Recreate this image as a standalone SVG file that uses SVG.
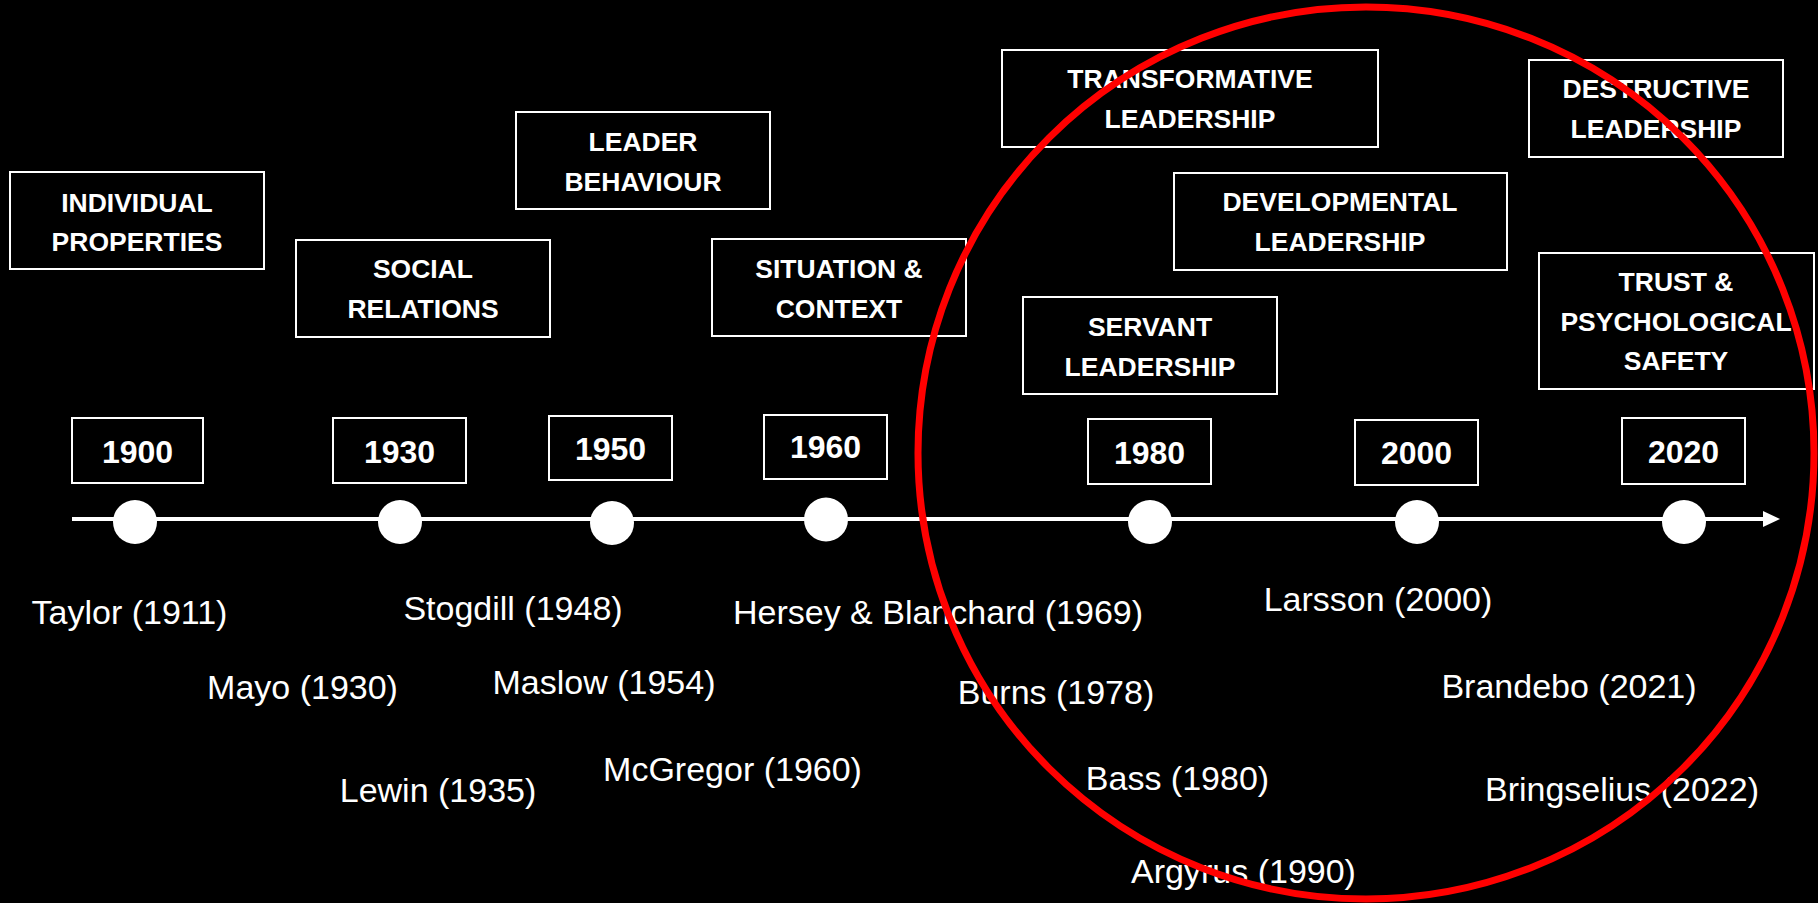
<svg xmlns="http://www.w3.org/2000/svg" width="1818" height="903" viewBox="0 0 1818 903">
  <style>
    .box { fill: none; stroke: #ffffff; stroke-width: 2; }
    .lbl { font-family: "Liberation Sans", Arial, sans-serif; font-weight: bold; font-size: 26.5px; fill: #ffffff; text-anchor: middle; }
    .yr { font-family: "Liberation Sans", Arial, sans-serif; font-weight: bold; font-size: 32px; fill: #ffffff; text-anchor: middle; }
    .ref { font-family: "Liberation Sans", Arial, sans-serif; font-size: 34px; fill: #ffffff; text-anchor: middle; }
    .dot { fill: #ffffff; }
  </style>
  <defs>
    <marker id="arrow" viewBox="0 0 17 16" refX="1" refY="8" markerWidth="17" markerHeight="16" markerUnits="userSpaceOnUse" orient="auto">
      <polygon points="0,0 17,8 0,16" fill="#ffffff"/>
    </marker>
  </defs>
  <rect x="0" y="0" width="1818" height="903" fill="#000000"/>

  <g id="connectors">
    <line x1="72" y1="519" x2="1764" y2="519" stroke="#ffffff" stroke-width="4" marker-end="url(#arrow)"/>
  </g>

  <g id="theme-individual">
    <rect class="box" x="10" y="172" width="254" height="97"/>
    <text class="lbl" x="137" y="212">INDIVIDUAL</text>
    <text class="lbl" x="137" y="251">PROPERTIES</text>
  </g>
  <g id="theme-social">
    <rect class="box" x="296" y="240" width="254" height="97"/>
    <text class="lbl" x="423" y="278">SOCIAL</text>
    <text class="lbl" x="423" y="318">RELATIONS</text>
  </g>
  <g id="theme-leader">
    <rect class="box" x="516" y="112" width="254" height="97"/>
    <text class="lbl" x="643" y="151">LEADER</text>
    <text class="lbl" x="643" y="191">BEHAVIOUR</text>
  </g>
  <g id="theme-situation">
    <rect class="box" x="712" y="239" width="254" height="97"/>
    <text class="lbl" x="839" y="278">SITUATION &amp;</text>
    <text class="lbl" x="839" y="318">CONTEXT</text>
  </g>
  <g id="theme-transformative">
    <rect class="box" x="1002" y="50" width="376" height="97"/>
    <text class="lbl" x="1190" y="88">TRANSFORMATIVE</text>
    <text class="lbl" x="1190" y="128">LEADERSHIP</text>
  </g>
  <g id="theme-developmental">
    <rect class="box" x="1174" y="173" width="333" height="97"/>
    <text class="lbl" x="1340" y="211">DEVELOPMENTAL</text>
    <text class="lbl" x="1340" y="251">LEADERSHIP</text>
  </g>
  <g id="theme-servant">
    <rect class="box" x="1023" y="297" width="254" height="97"/>
    <text class="lbl" x="1150" y="336">SERVANT</text>
    <text class="lbl" x="1150" y="376">LEADERSHIP</text>
  </g>
  <g id="theme-destructive">
    <rect class="box" x="1529" y="60" width="254" height="97"/>
    <text class="lbl" x="1656" y="98">DESTRUCTIVE</text>
    <text class="lbl" x="1656" y="138">LEADERSHIP</text>
  </g>
  <g id="theme-trust">
    <rect class="box" x="1539" y="253" width="275" height="136"/>
    <text class="lbl" x="1676" y="291">TRUST &amp;</text>
    <text class="lbl" x="1676" y="331">PSYCHOLOGICAL</text>
    <text class="lbl" x="1676" y="370">SAFETY</text>
  </g>

  <g id="year-1900">
    <rect class="box" x="72" y="418" width="131" height="65"/>
    <text class="yr" x="137.5" y="463">1900</text>
    <circle class="dot" cx="135" cy="522" r="22"/>
  </g>
  <g id="year-1930">
    <rect class="box" x="333" y="418" width="133" height="65"/>
    <text class="yr" x="399.5" y="463">1930</text>
    <circle class="dot" cx="400" cy="522" r="22"/>
  </g>
  <g id="year-1950">
    <rect class="box" x="549" y="416" width="123" height="64"/>
    <text class="yr" x="610.5" y="460">1950</text>
    <circle class="dot" cx="612" cy="523" r="22"/>
  </g>
  <g id="year-1960">
    <rect class="box" x="764" y="415" width="123" height="64"/>
    <text class="yr" x="825.5" y="458">1960</text>
    <circle class="dot" cx="826" cy="519.5" r="22"/>
  </g>
  <g id="year-1980">
    <rect class="box" x="1088" y="419" width="123" height="65"/>
    <text class="yr" x="1149.5" y="463.5">1980</text>
    <circle class="dot" cx="1150" cy="522" r="22"/>
  </g>
  <g id="year-2000">
    <rect class="box" x="1355" y="420" width="123" height="65"/>
    <text class="yr" x="1416.5" y="464">2000</text>
    <circle class="dot" cx="1417" cy="522" r="22"/>
  </g>
  <g id="year-2020">
    <rect class="box" x="1622" y="418" width="123" height="66"/>
    <text class="yr" x="1683.5" y="463">2020</text>
    <circle class="dot" cx="1684" cy="522" r="22"/>
  </g>

  <g id="references">
    <text class="ref" x="129.5" y="624">Taylor (1911)</text>
    <text class="ref" x="513" y="620">Stogdill (1948)</text>
    <text class="ref" x="938" y="624">Hersey &amp; Blanchard (1969)</text>
    <text class="ref" x="302.5" y="699">Mayo (1930)</text>
    <text class="ref" x="604" y="694">Maslow (1954)</text>
    <text class="ref" x="438" y="802">Lewin (1935)</text>
    <text class="ref" x="732.5" y="781">McGregor (1960)</text>
    <text class="ref" x="1378" y="611">Larsson (2000)</text>
    <text class="ref" x="1056" y="704">Burns (1978)</text>
    <text class="ref" x="1569" y="698">Brandebo (2021)</text>
    <text class="ref" x="1177.5" y="790">Bass (1980)</text>
    <text class="ref" x="1622" y="801">Bringselius (2022)</text>
    <text class="ref" x="1243.5" y="883">Argyrus (1990)</text>
  </g>

  <g id="highlight">
    <ellipse cx="1366" cy="453" rx="448" ry="446" fill="none" stroke="#ff0000" stroke-width="7"/>
  </g>
</svg>
